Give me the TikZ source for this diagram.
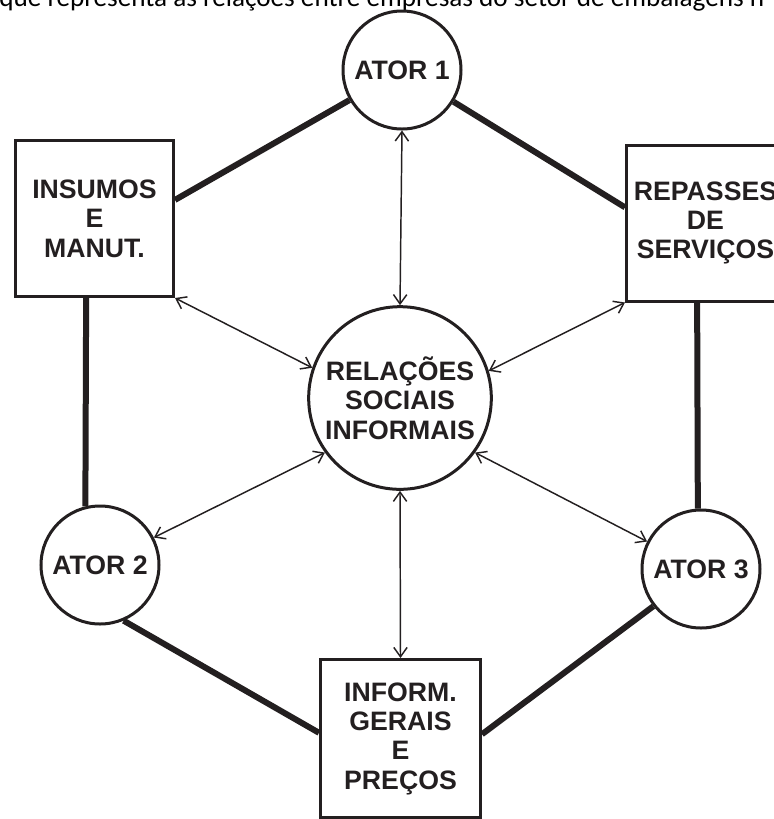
\documentclass[tikz,border=0pt]{standalone}
\usepackage{fontspec}
\setmainfont{Liberation Sans}
\newfontfamily\topfont{Carlito}
\usetikzlibrary{arrows.meta}
\definecolor{ink}{RGB}{35,31,32}
\begin{document}
\begin{tikzpicture}[x=0.75pt,y=-0.75pt,
  lbl/.style={font=\bfseries\fontsize{20}{22}\selectfont, text=ink, align=center, inner sep=0pt},
  actor/.style={lbl, circle, draw=ink, line width=2.25pt, minimum size=88.5pt},
  hub/.style={lbl, circle, draw=ink, line width=2.25pt, minimum size=137pt},
  topic/.style={lbl, rectangle, draw=ink, line width=2.25pt, minimum width=118.5pt, minimum height=117pt},
  tie/.style={draw=ink, line width=4.5pt},
  flow/.style={draw=ink, line width=1.1pt, {Straight Barb[length=7pt,width=10pt]}-{Straight Barb[length=7pt,width=10pt]}},
]
\useasboundingbox (0,0) rectangle (774,819);
\clip (0,0) rectangle (774,819);

\node[anchor=base west, inner sep=0pt, font=\topfont\fontsize{20.4}{24}\selectfont] (title) at (-1,6) {que representa as relações entre empresas do setor de embalagens n};

\node[actor] (a1) at (402,70) {ATOR 1};
\node[actor] (a2) at (100,565) {ATOR 2};
\node[actor] (a3) at (701,569) {ATOR 3};
\node[hub] (c) at (400,398) {RELAÇÕES\\SOCIAIS\\INFORMAIS};
\node[topic] (ins) at (94.5,218.5) {INSUMOS\\E\\MANUT.};
\node[topic] (rep) at (705.5,223) {REPASSES\\DE\\SERVIÇOS};
\node[topic, minimum width=120pt, minimum height=118.5pt] (inf) at (400.5,738.5) {INFORM.\\GERAIS\\E\\PREÇOS};

\draw[tie] (a1) -- (ins.13);
\draw[tie] (a1) -- (rep.169);
\draw[tie] (ins.264) -- (a2.104);
\draw[tie] (rep.264.5) -- (a3.93);
\draw[tie] (a2.-67) -- (inf.176);
\draw[tie] (a3.218) -- (inf.3.6);

\draw[flow] (c.north) -- (a1.south);
\draw[flow] (c.161) -- (ins.south east);
\draw[flow] (c.17) -- (rep.south west);
\draw[flow] (c.216) -- (a2.27);
\draw[flow] (c.-36) -- (a3.153);
\draw[flow] (c.south) -- (inf.north);
\end{tikzpicture}
\end{document}
